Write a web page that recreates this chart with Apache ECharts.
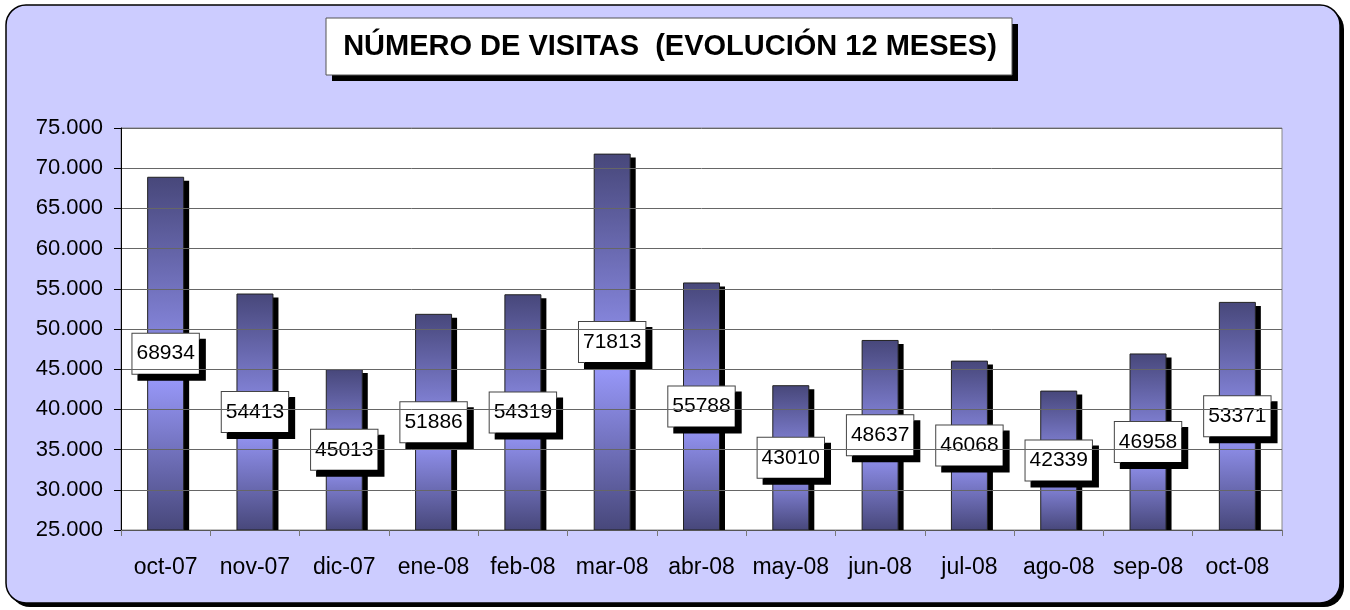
<!DOCTYPE html>
<html>
<head>
<meta charset="utf-8">
<style>
html,body{margin:0;padding:0;background:#fff;}
#chart{width:1350px;height:610px;}
</style>
<script src="https://cdn.jsdelivr.net/npm/echarts@6/dist/echarts.min.js"></script>
</head>
<body>
<div id="chart"></div>
<script>
const titleText = 'NÚMERO DE VISITAS  (EVOLUCIÓN 12 MESES)';
const categories = ['oct-07','nov-07','dic-07','ene-08','feb-08','mar-08','abr-08','may-08','jun-08','jul-08','ago-08','sep-08','oct-08'];
const visits = [68934, 54413, 45013, 51886, 54319, 71813, 55788, 43010, 48637, 46068, 42339, 46958, 53371];
const yMin = 25000, yMax = 75000, yStep = 5000;

const FONT = '"Liberation Sans", Arial, sans-serif';
const BAR_W = 37;

const chart = echarts.init(document.getElementById('chart'), null, {renderer: 'canvas'});

const barGradient = new echarts.graphic.LinearGradient(0, 0, 0, 1, [
  {offset: 0, color: '#47477a'},
  {offset: 0.58, color: '#9696f6'},
  {offset: 1, color: '#47477a'}
]);

chart.setOption({
  animation: false,
  backgroundColor: 'transparent',
  graphic: [
    {
      type: 'rect', z: -11, silent: true,
      shape: {x: 10, y: 9, width: 1334, height: 598, r: 20},
      style: {fill: '#000'}
    },
    {
      type: 'rect', z: -10, silent: true,
      shape: {x: 6, y: 5, width: 1334, height: 598, r: 20},
      style: {fill: '#ccccff', stroke: '#000', lineWidth: 1.5}
    },
    {
      type: 'rect', z: 9, silent: true,
      shape: {x: 332, y: 24, width: 686, height: 57},
      style: {fill: '#000'}
    },
    {
      type: 'rect', z: 10, silent: true,
      shape: {x: 326, y: 18, width: 686, height: 57},
      style: {fill: '#fff', stroke: '#555', lineWidth: 1}
    },
    {
      type: 'text', z: 11, silent: true,
      x: 670, y: 47,
      style: {text: titleText, font: 'bold 29px ' + FONT, fill: '#000',
              align: 'center', verticalAlign: 'middle'}
    }
  ],
  grid: {
    left: 121, right: 68, top: 128, bottom: 80,
    show: true, backgroundColor: '#fff', borderColor: '#888', borderWidth: 1
  },
  xAxis: {
    type: 'category',
    data: categories,
    boundaryGap: true,
    z: 5,
    axisLine: {lineStyle: {color: '#555', width: 1}},
    axisTick: {show: true, interval: 0, length: 6, lineStyle: {color: '#777'}},
    axisLabel: {interval: 0, margin: 26, color: '#000', fontSize: 23, fontFamily: FONT},
    splitLine: {show: false}
  },
  yAxis: {
    type: 'value',
    min: yMin, max: yMax, interval: yStep,
    z: 5,
    axisLine: {show: true, lineStyle: {color: '#000', width: 1}},
    axisTick: {show: true, length: 7, lineStyle: {color: '#000'}},
    axisLabel: {
      margin: 18, color: '#000', fontSize: 22, fontFamily: FONT,
      formatter: v => String(v).replace(/\B(?=(\d{3})+(?!\d))/g, '.')
    },
    splitLine: {show: true, lineStyle: {color: '#666', width: 1}}
  },
  series: [
    {
      type: 'custom',
      z: 1,
      silent: true,
      data: visits.map((v, i) => [i, v]),
      renderItem: function (params, api) {
        const top = api.coord([api.value(0), api.value(1)]);
        const base = api.coord([api.value(0), yMin]);
        return {
          type: 'rect',
          shape: {x: top[0] - BAR_W / 2 + 5, y: top[1] + 4, width: BAR_W, height: base[1] - top[1] - 4},
          style: {fill: '#000'}
        };
      }
    },
    {
      type: 'bar',
      z: 2,
      data: visits,
      barWidth: BAR_W,
      itemStyle: {color: barGradient, borderColor: '#222', borderWidth: 1},
      label: {
        show: true,
        position: 'inside',
        color: '#000',
        fontSize: 21,
        fontFamily: FONT,
        backgroundColor: '#fff',
        borderColor: '#444',
        borderWidth: 1,
        padding: [10, 4, 9, 4],
        shadowColor: '#000',
        shadowOffsetX: 6,
        shadowOffsetY: 6,
        shadowBlur: 0
      }
    }
  ]
});
</script>
</body>
</html>
